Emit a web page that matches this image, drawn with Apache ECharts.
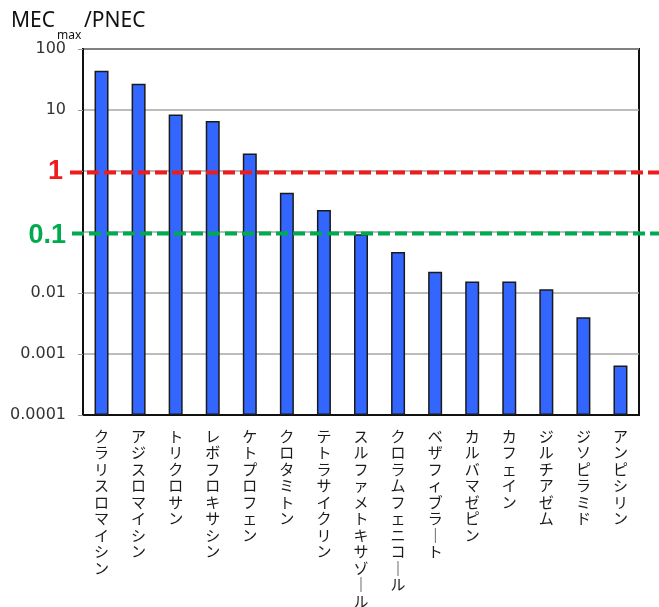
<!DOCTYPE html>
<html>
<head>
<meta charset="utf-8">
<script src="https://cdn.jsdelivr.net/npm/echarts@6/dist/echarts.min.js"></script>
<style>
  html, body { margin: 0; padding: 0; background: #fff; }
  #chart { width: 659px; height: 607px; }
</style>
</head>
<body>
<div id="chart"></div>
<script>
// Drug names (x categories)
const drugs = [
  'クラリスロマイシン', 'アジスロマイシン', 'トリクロサン', 'レボフロキサシン',
  'ケトプロフェン', 'クロタミトン', 'テトラサイクリン', 'スルファメトキサゾール',
  'クロラムフェニコール', 'ベザフィブラート', 'カルバマゼピン', 'カフェイン',
  'ジルチアゼム', 'ジソピラミド', 'アンピシリン'
];
// MECmax / PNEC ratio per drug
const ratios = [
  44, 27, 8.4, 6.6, 1.93, 0.44, 0.23, 0.092,
  0.047, 0.0224, 0.0154, 0.0154, 0.0115, 0.0040, 0.00065
];
// Y tick labels, one per decade from 1e-4 up to 1e2
const yTickLabels = ['0.0001', '0.001', '0.01', '0.1', '1', '10', '100'];
// Threshold lines: value, label, colour
const thresholdValues = [1, 0.1];
const thresholdLabels = ['1', '0.1'];
const thresholdColors = ['#ee1d1d', '#00aa4e'];

const chart = echarts.init(document.getElementById('chart'), null, { renderer: 'canvas' });

const option = {
  backgroundColor: '#fff',
  animation: false,
  grid: {
    left: 83, right: 20, top: 49, bottom: 192,
    outerBoundsMode: 'none',
    containLabel: false,
    show: true, borderColor: '#111', borderWidth: 2, backgroundColor: 'transparent'
  },
  xAxis: {
    type: 'category',
    data: drugs,
    axisLine: { show: true, lineStyle: { color: '#111', width: 2 } },
    axisTick: { show: false },
    axisLabel: {
      interval: 0,
      margin: 13,
      fontSize: 15,
      lineHeight: 16.5,
      color: '#1a1a1a',
      fontFamily: 'Noto Sans CJK JP',
      verticalAlign: 'top',
      // stack each character to read top-to-bottom; long vowel mark turns upright
      formatter: (s) => s.replace(/ー/g, '｜').split('').join('\n')
    }
  },
  yAxis: {
    type: 'log',
    logBase: 10,
    min: 0.0001,
    max: 100,
    startValue: 0.0001,
    axisLine: { show: true, lineStyle: { color: '#111', width: 2 } },
    axisTick: { show: true, length: 5, lineStyle: { color: '#999' } },
    splitLine: { show: true, lineStyle: { color: '#a6a6a6', width: 1.5 } },
    axisLabel: {
      margin: 17,
      fontSize: 16,
      color: '#333',
      fontFamily: 'DejaVu Sans',
      formatter: (v) => {
        const idx = Math.round(Math.log10(v)) + 4;
        const t = yTickLabels[idx];
        if (t === thresholdLabels[0]) return '{r|' + t + '}';
        if (t === thresholdLabels[1]) return '{g|' + t + '}';
        return t;
      },
      rich: {
        r: { color: thresholdColors[0], fontSize: 27, fontWeight: 'bold', fontFamily: 'Liberation Sans', padding: [2, 3, 0, 0] },
        g: { color: thresholdColors[1], fontSize: 27, fontWeight: 'bold', fontFamily: 'Liberation Sans', padding: [7, 0, 0, 0] }
      }
    }
  },
  series: [{
    type: 'bar',
    data: ratios,
    barWidth: 14,
    itemStyle: { color: '#3366ff', borderColor: '#1a1a1a', borderWidth: 1.5 },
    z: 2
  }]
};

chart.setOption(option);

// Dashed threshold lines across the plot, reaching past both edges
const lines = thresholdValues.map((v, i) => {
  const y = chart.convertToPixel({ yAxisIndex: 0 }, v);
  return {
    type: 'line',
    z: 100,
    shape: { x1: i === 0 ? 70 : 72, y1: y + 1.5, x2: 659, y2: y + 1.5 },
    style: { stroke: thresholdColors[i], lineWidth: 4, lineDash: [12, 5] }
  };
});

// Axis title MECmax/PNEC with subscript
const title = [
  { type: 'text', left: 11, top: 11, style: { text: 'MEC', font: '21px "Noto Sans"', fill: '#111' } },
  { type: 'text', left: 57, top: 30, style: { text: 'max', font: '12px "Noto Sans"', fill: '#111' } },
  { type: 'text', left: 84, top: 11, style: { text: '/PNEC', font: '21px "Noto Sans"', fill: '#111' } }
];

chart.setOption({ graphic: lines.concat(title) });
</script>
</body>
</html>
